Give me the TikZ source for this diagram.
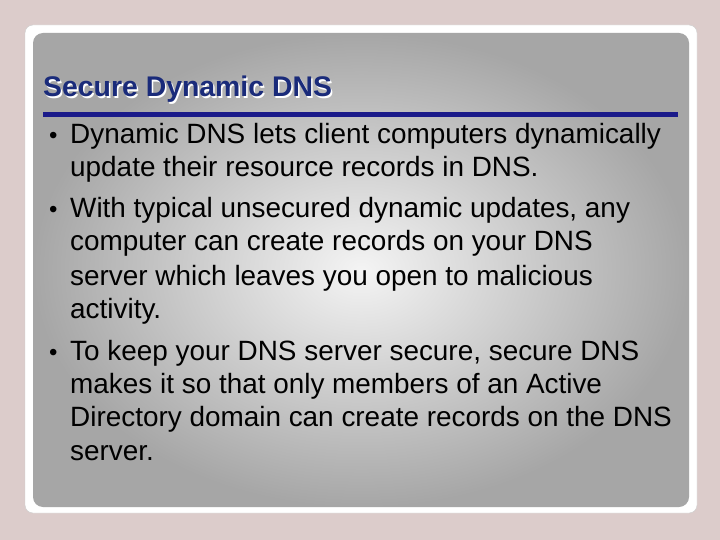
\documentclass[tikz,border=0pt]{standalone}
\usepackage{fontspec}
\setmainfont{Liberation Sans}
\definecolor{bgc}{HTML}{DCCCCB}
\definecolor{titc}{HTML}{1A2B7A}
\definecolor{rulec}{HTML}{1A1A8A}
\definecolor{inl}{HTML}{F4F4F4}
\definecolor{outd}{HTML}{A6A6A6}
\begin{document}
\begin{tikzpicture}[x=1pt,y=-1pt,
  txt/.style={anchor=base west,inner sep=0pt,font=\fontsize{27.9}{28}\selectfont,text=black},
  bul/.style={anchor=base west,inner sep=0pt,font=\fontsize{24}{24}\selectfont}]
\fill[bgc] (0,0) rectangle (720,540);
\useasboundingbox (0,0) rectangle (720,540);
\fill[white,rounded corners=8pt,draw=gray!40] (25,25) rectangle (697,513);
\shade[inner color=inl,outer color=outd,rounded corners=10pt] (33,33) rectangle (689,507);
\node[anchor=base west,inner sep=0pt,font=\fontsize{28.4}{28}\selectfont\bfseries,text=white] at (44.5,98.5) {Secure Dynamic DNS};
\node (title)[anchor=base west,inner sep=0pt,font=\fontsize{28.4}{28}\selectfont\bfseries,text=titc] at (43,97) {Secure Dynamic DNS};
\coordinate (r1) at (43,114.5); \coordinate (r2) at (678,114.5);
\draw[rulec,line width=5pt] (r1) -- (r2);
\foreach \y in {144,218,360} \node[bul] at (49,\y) {•};
\node[txt] at (70,144) {Dynamic DNS lets client computers dynamically};
\node[txt] at (70,177) {update their resource records in DNS.};
\node[txt] at (70,218) {With typical unsecured dynamic updates, any};
\node[txt] at (70,251) {computer can create records on your DNS};
\node[txt] at (70,285) {server which leaves you open to malicious};
\node[txt] at (70,318) {activity.};
\node[txt] at (70,360) {To keep your DNS server secure, secure DNS};
\node[txt] at (70,393) {makes it so that only members of an Active};
\node[txt] at (70,426) {Directory domain can create records on the DNS};
\node[txt] at (70,460) {server.};
\end{tikzpicture}
\end{document}
